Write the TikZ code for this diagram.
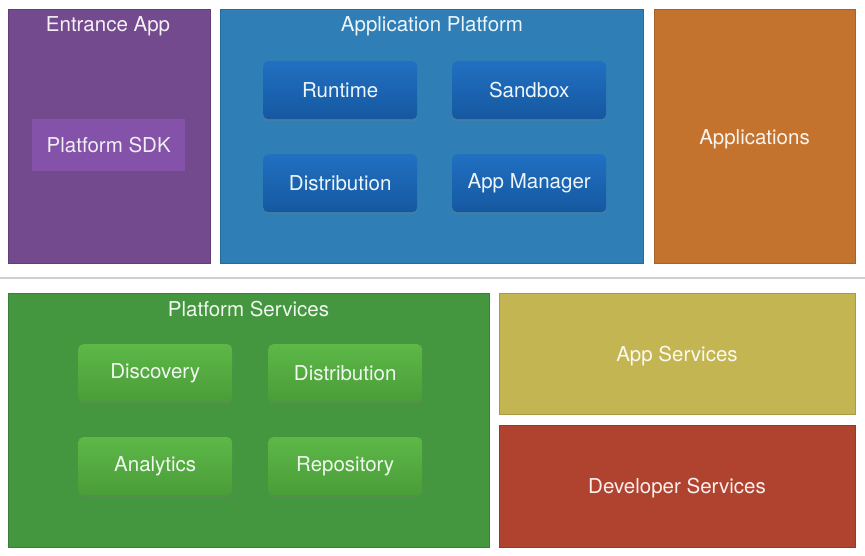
\documentclass[tikz,border=0pt]{standalone}
\usepackage{fontspec}
\setmainfont{TeX Gyre Heros}
\usetikzlibrary{shadows}
\definecolor{cPurple}{HTML}{744A8F}
\definecolor{cPurpleIn}{HTML}{8452A8}
\definecolor{cBlue}{HTML}{2F7EB6}
\definecolor{cBlueTop}{HTML}{2170C2}
\definecolor{cBlueBot}{HTML}{1558A0}
\definecolor{cOrange}{HTML}{C4732F}
\definecolor{cGreen}{HTML}{44963F}
\definecolor{cGreenTop}{HTML}{5DB847}
\definecolor{cGreenBot}{HTML}{4A9D38}
\definecolor{cYellow}{HTML}{C4B553}
\definecolor{cRed}{HTML}{B04330}
\definecolor{cSep}{HTML}{CFCFCF}
\tikzset{
  panel/.style={anchor=north west, inner sep=0pt, draw=#1!85!black, line width=0.6pt, fill=#1},
  lbl/.style={text=white!92!#1, font=\fontsize{20.5}{24}\selectfont},
  inblue/.style={anchor=north west, inner sep=0pt, rounded corners=5pt, top color=cBlueTop, bottom color=cBlueBot,
     minimum width=154pt, minimum height=58pt, drop shadow={shadow xshift=0pt, shadow yshift=-2pt, opacity=0.25},
     text=white!92!cBlue, font=\fontsize{20.5}{24}\selectfont},
  ingreen/.style={anchor=north west, inner sep=0pt, rounded corners=5pt, top color=cGreenTop, bottom color=cGreenBot,
     minimum width=154pt, minimum height=58pt, drop shadow={shadow xshift=0pt, shadow yshift=-2pt, opacity=0.25},
     text=white!92!cGreen, font=\fontsize{20.5}{24}\selectfont},
}
\begin{document}
\begin{tikzpicture}[x=1pt,y=-1pt]
\fill[white] (0,0) rectangle (865,556);
\useasboundingbox (0,0) rectangle (865,556);
% top row
\node[panel=cPurple, minimum width=202pt, minimum height=254pt] (entr) at (8,9) {};
\node[lbl=cPurple] (entrT) at (108,26) {Entrance App};
\node[anchor=north west, inner sep=0pt, fill=cPurpleIn, minimum width=153pt, minimum height=52pt,
      text=white!90!cPurple, font=\fontsize{20.5}{24}\selectfont] (sdk) at (32,119) {Platform SDK};

\node[panel=cBlue, minimum width=423pt, minimum height=254pt] (plat) at (220,9) {};
\node[lbl=cBlue] (platT) at (432,26) {Application Platform};
\node[inblue] (runtime) at (263,61) {Runtime};
\node[inblue] (sandbox) at (452,61) {Sandbox};
\node[inblue] (distA) at (263,154) {Distribution};
\node[inblue] (appman) at (452,154) {App Manager};

\node[panel=cOrange, minimum width=201pt, minimum height=254pt] (apps) at (654,9) {};
\node[lbl=cOrange] (appsT) at (754.5,139) {Applications};

% separator
\coordinate (sepL) at (0,277.5);
\coordinate (sepR) at (865,277.5);
\draw[cSep, line width=2pt] (sepL) -- (sepR);

% bottom row
\node[panel=cGreen, minimum width=481pt, minimum height=254pt] (psvc) at (8,293) {};
\node[lbl=cGreen] (psvcT) at (248.5,309) {Platform Services};
\node[ingreen] (disc) at (78,344) {Discovery};
\node[ingreen] (distB) at (268,344) {Distribution};
\node[ingreen] (anal) at (78,437) {Analytics};
\node[ingreen] (repo) at (268,437) {Repository};

\node[panel=cYellow, minimum width=356pt, minimum height=121pt] (asvc) at (499,293) {};
\node[lbl=cYellow] (asvcT) at (677,356) {App Services};
\node[panel=cRed, minimum width=356pt, minimum height=122pt] (dsvc) at (499,425) {};
\node[lbl=cRed] (dsvcT) at (677,488) {Developer Services};
\end{tikzpicture}
\end{document}
